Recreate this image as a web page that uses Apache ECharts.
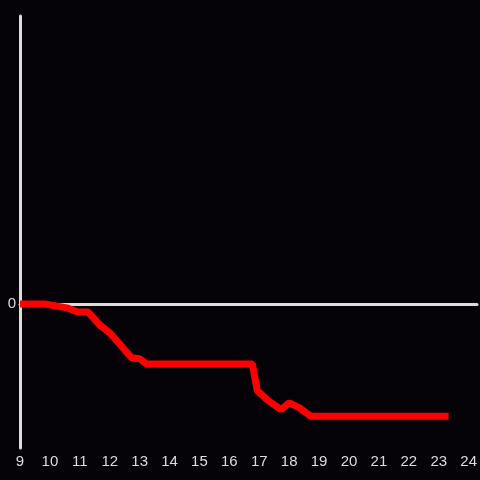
<!DOCTYPE html>
<html>
<head>
<meta charset="utf-8">
<script src="https://cdn.jsdelivr.net/npm/echarts@6/dist/echarts.min.js"></script>
<style>
  html, body { margin: 0; padding: 0; background: #050307; }
  #chart { width: 480px; height: 480px; }
</style>
</head>
<body>
<div id="chart"></div>
<script>
// hours and values
const hours = [9, 9.83, 10.57, 10.93, 11.27, 11.67, 12.0, 12.73, 13.0, 13.23, 16.77, 16.93, 17.27, 17.73, 18.0, 18.33, 18.73, 23.33];
const values = [0, 0, -0.04, -0.083, -0.083, -0.22, -0.30, -0.56, -0.57, -0.625, -0.625, -0.9, -1.0, -1.10, -1.03, -1.08, -1.17, -1.17];

const axisColor = '#dddddd';
const lineColor = '#ff0000';

const chart = echarts.init(document.getElementById('chart'));
const option = {
  backgroundColor: '#050307',
  animation: false,
  grid: { left: 20, right: 0, top: 16, bottom: 32, containLabel: false },
  xAxis: {
    type: 'value',
    min: 9,
    max: 24.28,
    interval: 1,
    axisLine: { onZero: true, lineStyle: { color: axisColor, width: 3 } },
    axisTick: { show: false },
    splitLine: { show: false },
    axisLabel: {
      color: axisColor,
      fontSize: 15,
      margin: 6,
      formatter: v => (Number.isInteger(v) ? String(v) : '')
    }
  },
  yAxis: {
    type: 'value',
    min: -1.5,
    max: 3,
    interval: 1.5,
    axisLine: { show: true, lineStyle: { color: axisColor, width: 3 } },
    axisTick: { show: false },
    splitLine: { show: false },
    axisLabel: {
      color: axisColor,
      fontSize: 15,
      margin: 4,
      formatter: v => (v === 0 ? '0' : '')
    }
  },
  series: [{
    type: 'line',
    data: hours.map((h, i) => [h, values[i]]),
    showSymbol: false,
    lineStyle: { color: lineColor, width: 7 },
    z: 3
  }]
};
chart.setOption(option);
</script>
</body>
</html>
